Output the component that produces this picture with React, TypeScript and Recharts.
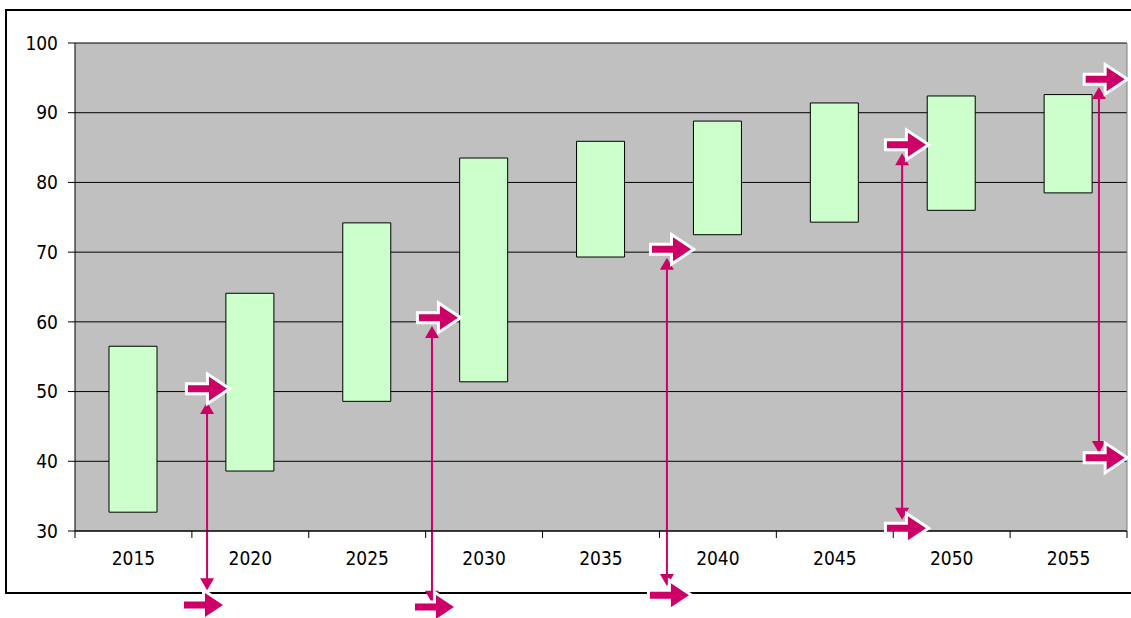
import {
  ComposedChart, Bar, XAxis, YAxis, CartesianGrid, ReferenceDot, ReferenceLine,
} from 'recharts'

const years = [2015, 2020, 2025, 2030, 2035, 2040, 2045, 2050, 2055]
const lowValues = [32.7, 38.6, 48.6, 51.4, 69.3, 72.5, 74.3, 76.0, 78.5]
const highValues = [56.5, 64.1, 74.2, 83.5, 85.9, 88.8, 91.4, 92.4, 92.6]
const yTicks = [30, 40, 50, 60, 70, 80, 90, 100]

// hand-drawn block arrows: x of the arrow tip in years, y in chart units
const arrowTipX = [2019.0, 2028.88, 2038.85, 2048.9, 2057.4, 2018.83, 2028.71, 2038.76, 2048.9, 2057.4]
const arrowY = [50.4, 60.6, 70.4, 85.4, 94.8, 19.4, 19.1, 20.8, 30.4, 40.5]

// double-headed vertical connectors
const linkX = [2018.15, 2027.77, 2037.82, 2047.88, 2056.3]
const linkTop = [48.5, 59.4, 69.2, 84.2, 93.7]
const linkBottom = [21.5, 19.7, 22.1, 31.6, 41.2]

const data = years.map((year, i) => ({ year, low: lowValues[i], high: highValues[i] }))

const MAGENTA = '#CC0066'
const FONT = 'Tahoma, "DejaVu Sans Condensed", "DejaVu Sans", sans-serif'
const PLOT_BOTTOM = 531
const HALF_BAND = 1052 / 18

function BlockArrow(props: any) {
  const { cx, cy } = props
  if (cx == null || cy == null) return null
  const pts = [
    [cx - 39, cy - 3.5], [cx - 18, cy - 3.5], [cx - 18, cy - 12],
    [cx, cy], [cx - 18, cy + 12], [cx - 18, cy + 3.5], [cx - 39, cy + 3.5],
  ].map(p => p.join(',')).join(' ')
  return (
    <g>
      <polygon points={pts} fill="#fff" stroke="#fff" strokeWidth={6} strokeLinejoin="miter" />
      <polygon points={pts} fill={MAGENTA} />
    </g>
  )
}

function DoubleArrow(props: any) {
  const { x1, y1, x2, y2 } = props
  if (x1 == null || y1 == null) return null
  const top = Math.min(y1, y2)
  const bottom = Math.max(y1, y2)
  return (
    <g>
      <line x1={x1} x2={x2} y1={top + 10} y2={bottom - 10} stroke={MAGENTA} strokeWidth={2} />
      <polygon points={`${x1},${top} ${x1 - 7},${top + 12} ${x1 + 7},${top + 12}`} fill={MAGENTA} />
      <polygon points={`${x2},${bottom} ${x2 - 7},${bottom - 12} ${x2 + 7},${bottom - 12}`} fill={MAGENTA} />
    </g>
  )
}

function YearTick(props: any) {
  const { x, y, payload, index } = props
  return (
    <g>
      <line x1={x - HALF_BAND} x2={x - HALF_BAND} y1={PLOT_BOTTOM} y2={PLOT_BOTTOM + 7} stroke="#000" />
      {index === years.length - 1 && (
        <line x1={x + HALF_BAND} x2={x + HALF_BAND} y1={PLOT_BOTTOM} y2={PLOT_BOTTOM + 7} stroke="#000" />
      )}
      <text x={x} y={y} dy="0.71em" textAnchor="middle" fill="#000" fontSize={19} fontFamily={FONT}>
        {payload.value}
      </text>
    </g>
  )
}

export default function App() {
  return (
    <div style={{ position: 'absolute', left: 0, top: 0, width: 1131, height: 618, overflow: 'hidden', background: '#fff' }}>
      <div style={{ position: 'absolute', left: 5, top: 9, width: 1200, height: 585, boxSizing: 'border-box', border: '2px solid #000' }} />
      <div style={{ position: 'absolute', left: 0, top: 0 }}>
        <ComposedChart width={1131} height={618} data={data} margin={{ top: 43, right: 4, bottom: 57, left: 0 }}>
          <CartesianGrid fill="#C0C0C0" stroke="#000" vertical={false} fillOpacity={1} />
          <XAxis
            dataKey="year"
            type="number"
            domain={[2012.5, 2057.5]}
            ticks={years}
            allowDataOverflow
            height={30}
            axisLine={{ stroke: '#000' }}
            tickLine={false}
            tickSize={7}
            tickMargin={14}
            interval={0}
            tick={<YearTick />}
          />
          <YAxis
            domain={[30, 100]}
            ticks={yTicks}
            width={75}
            interval={0}
            axisLine={{ stroke: '#000' }}
            tickLine={{ stroke: '#000' }}
            tickSize={7}
            tickMargin={10}
            tick={{ fill: '#000', fontSize: 19, fontFamily: FONT }}
          />
          <Bar
            dataKey={(d: any) => [d.low, d.high]}
            barSize={48}
            fill="#CCFFCC"
            stroke="#000"
            strokeWidth={1}
            isAnimationActive={false}
          />
          <ReferenceLine x={2057.5} stroke="#808080" />
          {linkX.map((x, i) => (
            <ReferenceLine
              key={`link-${i}`}
              ifOverflow="visible"
              segment={[{ x, y: linkTop[i] }, { x, y: linkBottom[i] }]}
              shape={<DoubleArrow />}
            />
          ))}
          {arrowTipX.map((x, i) => (
            <ReferenceDot
              key={`arrow-${i}`}
              x={x}
              y={arrowY[i]}
              ifOverflow="visible"
              shape={<BlockArrow />}
            />
          ))}
        </ComposedChart>
      </div>
    </div>
  )
}
